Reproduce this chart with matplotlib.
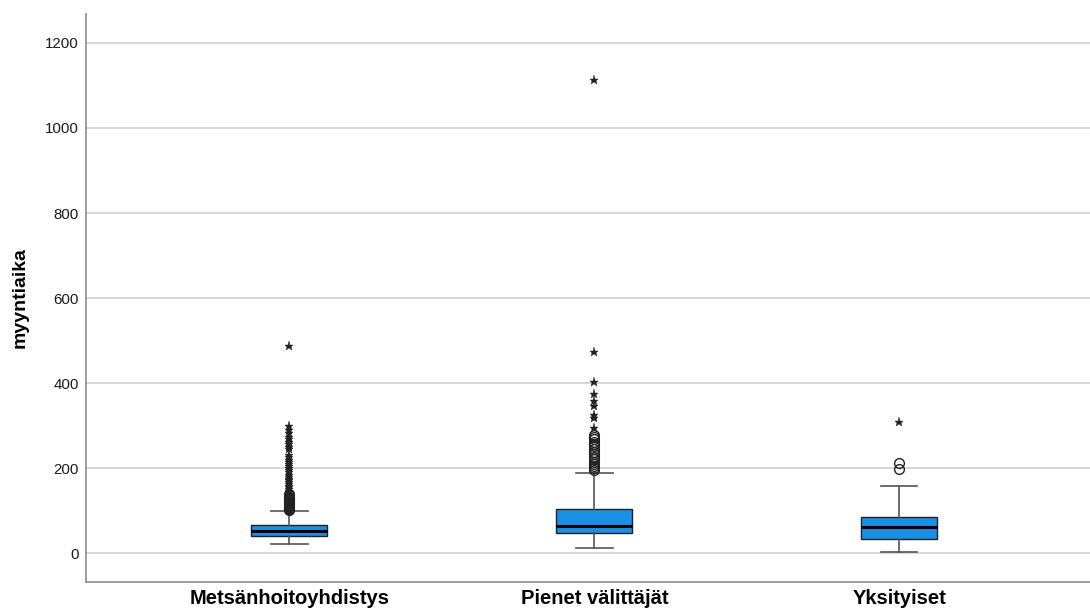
import numpy as np
import matplotlib
matplotlib.use('Agg')
import matplotlib.pyplot as plt

plt.rcParams['font.family'] = ['Liberation Sans', 'DejaVu Sans']

# groups and box statistics
groups = ['Metsänhoitoyhdistys', 'Pienet välittäjät', 'Yksityiset']
q1 = [40, 47, 33]
med = [52, 63, 61]
q3 = [66, 103, 85]
whislo = [21, 12, 3]
whishi = [99, 188, 158]

# outliers: circles = mild, stars = extreme
circ1 = [101, 103, 105, 107, 109, 111, 113, 115, 117, 119, 121, 123, 125, 127, 129, 131, 133, 136, 139]
star1 = [143, 147, 151, 155, 159, 163, 167, 171, 175, 180, 185, 190, 195, 200, 205, 210, 215, 220,
         226, 232, 244, 250, 256, 262, 268, 274, 282, 290, 298, 487]
circ2 = [196, 200, 204, 209, 215, 221, 227, 233, 239, 245, 251, 257, 262, 268, 274, 279]
star2 = [294, 318, 324, 346, 358, 374, 402, 473, 1112]
circ3 = [198, 212]
star3 = [308]
circles = [circ1, circ2, circ3]
stars = [star1, star2, star3]

stats = []
for i in range(3):
    stats.append(dict(q1=q1[i], med=med[i], q3=q3[i], whislo=whislo[i], whishi=whishi[i], fliers=[]))

fig = plt.figure(figsize=(10.9, 6.12), dpi=100)
ax = fig.add_axes([0.0789, 0.0495, 0.9211, 0.9276])

ax.yaxis.grid(True, color='#cfcfcf', lw=1.2, zorder=0)
ax.set_axisbelow(True)

pos = np.arange(3)
ax.bxp(stats, positions=pos, widths=0.25, patch_artist=True, showfliers=False,
       boxprops=dict(facecolor='#1b8fe3', edgecolor='#222222', lw=1.0),
       medianprops=dict(color='black', lw=2.2),
       whiskerprops=dict(color='#555555', lw=1.2),
       capprops=dict(color='#555555', lw=1.2), capwidths=0.12)

for i in range(3):
    ax.plot([pos[i]] * len(circles[i]), circles[i], 'o', mfc='none', mec='#222222', ms=7, mew=1.0, zorder=3)
    ax.plot([pos[i]] * len(stars[i]), stars[i], '*', color='#222222', ms=6.5, mew=0.3, zorder=3)

ax.set_xlim(-0.667, 2.626)
ax.set_ylim(-67, 1268)
ax.set_yticks([0, 200, 400, 600, 800, 1000, 1200])
ax.set_xticks(pos)
ax.set_xticklabels(groups, fontsize=14.5, fontweight='bold', color='black')
ax.tick_params(axis='both', length=0)
ax.tick_params(axis='x', labelsize=14.5, pad=5, labelcolor='black')
ax.tick_params(axis='y', labelsize=10.8, pad=5, labelcolor='#1a1a1a')
ax.set_ylabel('myyntiaika', fontsize=14, fontweight='bold', labelpad=12)

for s in ['top', 'right']:
    ax.spines[s].set_visible(False)
for s in ['left', 'bottom']:
    ax.spines[s].set_color('#8c8c8c')
    ax.spines[s].set_linewidth(1.2)

fig.savefig('out.png', dpi=100)
